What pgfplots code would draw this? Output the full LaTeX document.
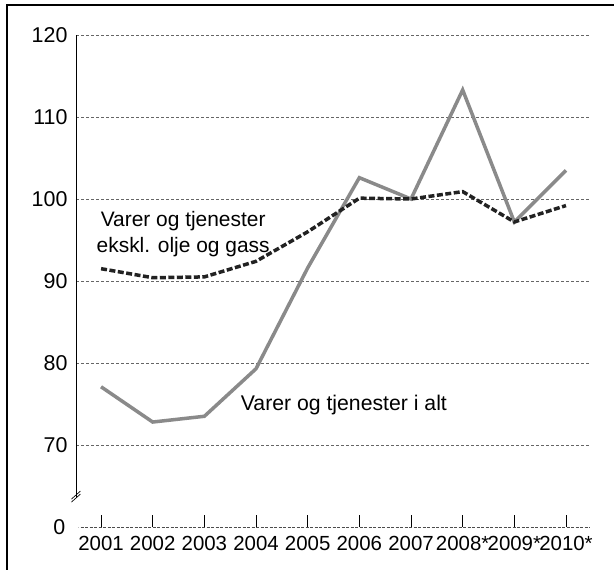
\documentclass[border=0pt]{standalone}
\usepackage{pgfplots}
\pgfplotsset{compat=1.18}
\usepackage{fontspec}
\setmainfont{Liberation Sans}
\definecolor{lgrey}{HTML}{8A8A8A}
\definecolor{dk}{HTML}{222222}
\begin{document}
\begin{tikzpicture}[x=1bp,y=1bp]
\useasboundingbox (0,0) rectangle (614,570);
\draw[line width=2.5bp] (7,0) -- (7,565) -- (614,565);
\begin{axis}[
  at={(76bp,43bp)}, anchor=south west,
  scale only axis, width=514bp, height=492bp,
  xmin=0.515, xmax=10.465, ymin=60, ymax=120,
  axis x line*=bottom, axis y line*=left,
  x axis line style={-, draw=black!70, dash pattern=on 3bp off 1.5bp, line width=0.9bp},
  y axis line style={-, draw=black, line width=0.8bp},
  xtick={1,...,10},
  xticklabels={2001,2002,2003,2004,2005,2006,2007,2008*,2009*,2010*},
  ytick={70,80,90,100,110,120},
  yticklabels={70,80,90,100,110,120},
  tick align=inside, major tick length=12bp,
  xtick style={draw=black, line width=0.7bp},
  ytick style={draw=none},
  ymajorgrids,
  grid style={draw=black!60, dash pattern=on 3bp off 2bp, line width=0.8bp},
  xticklabel style={font=\fontsize{20.5}{24}\selectfont, yshift=-6bp},
  yticklabel style={font=\fontsize{21.5}{24}\selectfont, xshift=-5bp},
  /pgf/number format/assume math mode=true,
  clip=false,
]
\addplot[lgrey, line width=3.5bp] coordinates {
 (1,77.1) (2,72.8) (3,73.5) (4,79.3) (5,91.6) (6,102.6) (7,100.0) (8,113.3) (9,97.2) (10,103.5)};
\addplot[dk, line width=3.5bp, dash pattern=on 6bp off 2.5bp] coordinates {
 (1,91.5) (2,90.4) (3,90.5) (4,92.4) (5,96.0) (6,100.1) (7,100.0) (8,100.9) (9,97.2) (10,99.2)};
\node[inner sep=0, align=center, anchor=center, font=\fontsize{21}{26}\selectfont]
  at (axis cs:2.589,95.67) {Varer og tjenester\\ekskl. olje og gass};
\node[inner sep=0, anchor=base west, font=\fontsize{21.3}{26}\selectfont]
  at (axis cs:3.703,74.15) {Varer og tjenester i alt};
\node[inner sep=0, anchor=east, font=\fontsize{21.5}{24}\selectfont]
  at ([xshift=-10.5bp]axis cs:0.515,60) {0};
\fill[white] ([xshift=-4.5bp,yshift=-7bp]axis cs:0.515,63.9) -- ++(9bp,8bp) -- ++(0,3bp) -- ++(-9bp,-8bp) -- cycle;
\draw[line width=0.7bp] ([xshift=-4.5bp,yshift=-7bp]axis cs:0.515,63.9) -- ++(9bp,8bp);
\draw[line width=0.7bp] ([xshift=-4.5bp,yshift=-4bp]axis cs:0.515,63.9) -- ++(9bp,8bp);
\end{axis}
\end{tikzpicture}
\end{document}
